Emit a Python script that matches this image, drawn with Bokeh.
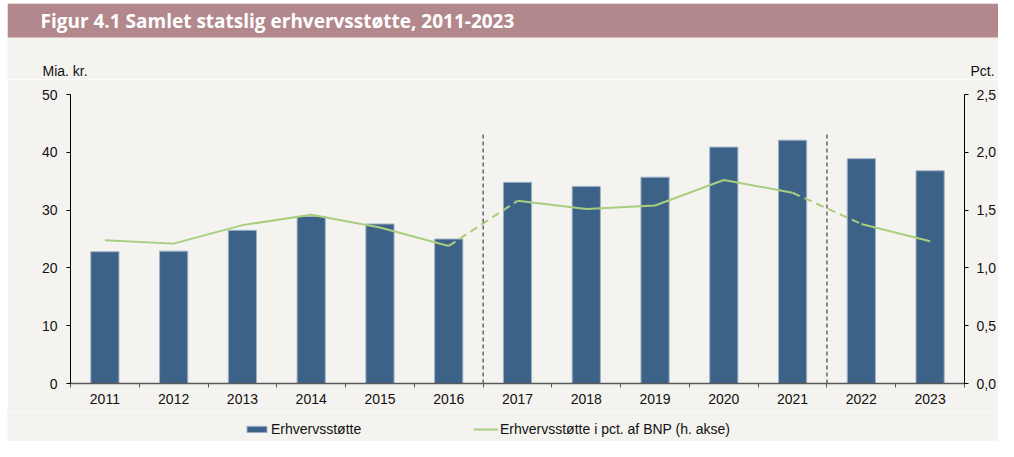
from bokeh.plotting import figure
from bokeh.models import (Range1d, LinearAxis, FixedTicker, Label, Legend, LegendItem,
                          CustomJSTickFormatter)
from bokeh.layouts import column
from bokeh.embed import file_html
from bokeh.resources import INLINE

# ---- data ----
years = ["2011", "2012", "2013", "2014", "2015", "2016", "2017",
         "2018", "2019", "2020", "2021", "2022", "2023"]
support_bn = [22.8, 22.9, 26.5, 28.9, 27.6, 25.0, 34.8, 34.1, 35.7, 40.9, 42.1, 38.9, 36.8]
support_pct_gdp = [1.24, 1.21, 1.37, 1.46, 1.35, 1.19, 1.58, 1.51, 1.54, 1.76, 1.65, 1.38, 1.23]
break_after = ["2016", "2021"]          # dashed separators after these years
left_ticks = [0, 10, 20, 30, 40, 50]
right_ticks = [0.0, 0.5, 1.0, 1.5, 2.0, 2.5]

title_text = "Figur 4.1  Samlet statslig erhvervsstøtte, 2011-2023"
left_unit = "Mia. kr."
right_unit = "Pct."
bar_label = "Erhvervsstøtte"
line_label = "Erhvervsstøtte i pct. af BNP (h. akse)"

FONT = "Liberation Sans"
BG = "#F4F3EF"
TITLE_BG = "#B3888C"
BAR = "#3D6287"
BAR_EDGE = "#9FB3C7"
GREEN = "#A8CE7E"
TXT = "#111111"

W = 991
H_HEAD = 76
H_MAIN = 333
H_FOOT = 29


def strip(height):
    """A figure whose frame is the whole canvas, in pixel-like coordinates (y downward)."""
    f = figure(width=W, height=height, output_backend="svg", toolbar_location=None,
               x_range=Range1d(0, W), y_range=Range1d(height, 0), frame_align=False,
               min_border_left=0, min_border_right=0, min_border_top=0, min_border_bottom=0)
    f.axis.visible = False
    f.grid.visible = False
    f.outline_line_color = None
    f.background_fill_color = BG
    f.border_fill_color = BG
    return f


# ---- header: title bar + unit labels ----
h = strip(H_HEAD)
h.quad(left=0, right=W, top=0, bottom=34, fill_color=TITLE_BG, line_color=None)
h.add_layout(Label(x=33, y=17, text=title_text, text_color="white",
                   text_font="Open Sans", text_font_style="bold", text_font_size="19px",
                   text_baseline="middle", text_align="left"))
h.add_layout(Label(x=35, y=67, text=left_unit, text_font=FONT, text_font_size="14px",
                   text_color=TXT, text_baseline="middle", text_align="left"))
h.add_layout(Label(x=963, y=67, text=right_unit, text_font=FONT, text_font_size="14px",
                   text_color=TXT, text_baseline="middle", text_align="left"))

# ---- main chart ----
xs = list(range(1, len(years) + 1))
x0, x1 = 0.5, len(years) + 0.5

p = figure(width=W, height=H_MAIN, output_backend="svg", toolbar_location=None,
           x_range=Range1d(x0, x1), y_range=Range1d(left_ticks[0], left_ticks[-1]),
           frame_align=False,
           min_border_left=63, min_border_right=34, min_border_top=15, min_border_bottom=29,
           x_axis_location=None, y_axis_location=None)
p.background_fill_color = BG
p.border_fill_color = BG
p.outline_line_color = None
p.grid.visible = False
p.extra_y_ranges = {"pct": Range1d(right_ticks[0], right_ticks[-1])}

# bottom axis: labels at category centres, ticks at category boundaries
xaxis = LinearAxis(ticker=FixedTicker(ticks=xs, minor_ticks=[i + 0.5 for i in range(0, len(years) + 1)]),
                   major_label_overrides={x: y for x, y in zip(xs, years)})
xaxis.major_tick_in = 0
xaxis.major_tick_out = 0
xaxis.minor_tick_in = 0
xaxis.minor_tick_out = 4
xaxis.minor_tick_line_color = "#595959"
xaxis.axis_line_color = "#595959"
xaxis.axis_line_width = 1.5
xaxis.major_label_standoff = 6
xaxis.major_label_text_font = FONT
xaxis.major_label_text_font_size = "14px"
xaxis.major_label_text_color = TXT
p.add_layout(xaxis, "below")

yaxis = LinearAxis(ticker=FixedTicker(ticks=left_ticks, minor_ticks=[]))
yaxis.major_tick_in = 0
yaxis.major_tick_out = 4
yaxis.axis_line_color = "black"
yaxis.major_tick_line_color = "black"
yaxis.major_label_standoff = 9
yaxis.major_label_text_font = FONT
yaxis.major_label_text_font_size = "14px"
yaxis.major_label_text_color = TXT
p.add_layout(yaxis, "left")

raxis = LinearAxis(y_range_name="pct", ticker=FixedTicker(ticks=right_ticks, minor_ticks=[]),
                   formatter=CustomJSTickFormatter(code="return tick.toFixed(1).replace('.', ',');"))
raxis.major_tick_in = 0
raxis.major_tick_out = 4
raxis.axis_line_color = "black"
raxis.major_tick_line_color = "black"
raxis.major_label_standoff = 8
raxis.major_label_text_font = FONT
raxis.major_label_text_font_size = "14px"
raxis.major_label_text_color = TXT
p.add_layout(raxis, "right")

bar_style = dict(fill_color=BAR, line_color=BAR_EDGE, line_width=1)
line_style = dict(line_color=GREEN, line_width=2)

# bars
p.vbar(x=xs, top=support_bn, width=0.41, bottom=0, **bar_style)

# line: solid within periods, dashed across the breaks
break_idx = [years.index(b) for b in break_after]
starts = [0] + [b + 1 for b in break_idx]
ends = [b for b in break_idx] + [len(years) - 1]
for s, e in zip(starts, ends):
    p.line(xs[s:e + 1], support_pct_gdp[s:e + 1], y_range_name="pct", **line_style)
for b in break_idx:
    p.line(xs[b:b + 2], support_pct_gdp[b:b + 2], y_range_name="pct",
           line_dash="8 5", **line_style)

# vertical dashed separators
sep_x = [xs[b] + 0.5 for b in break_idx]
p.segment(x0=sep_x, y0=[0] * len(sep_x), x1=sep_x, y1=[43.4] * len(sep_x),
          line_color="#222222", line_width=1, line_dash="4 3")

# ---- footer: legend (swatch renderers sit outside the strip's visible range) ----
f = strip(H_FOOT)
off = -10 * W
sw_bar = f.vbar(x=[off], top=[off + 1], bottom=[off], width=1, **bar_style)
sw_line = f.line(x=[off, off + 1], y=[off, off], **line_style)
legend = Legend(items=[LegendItem(label=bar_label, renderers=[sw_bar]),
                       LegendItem(label=line_label, renderers=[sw_line])],
                location=(237, 4), orientation="horizontal",
                padding=0, margin=0, spacing=0, label_standoff=2,
                glyph_width=25, glyph_height=8, label_width=202, label_height=17,
                border_line_color=None, background_fill_alpha=0,
                label_text_font=FONT, label_text_font_size="14px",
                label_text_color=TXT)
f.add_layout(legend, "center")

layout = column(h, p, f, spacing=0, margin=(3, 0, 0, 7))
open("out.html", "w").write(file_html(layout, INLINE))
